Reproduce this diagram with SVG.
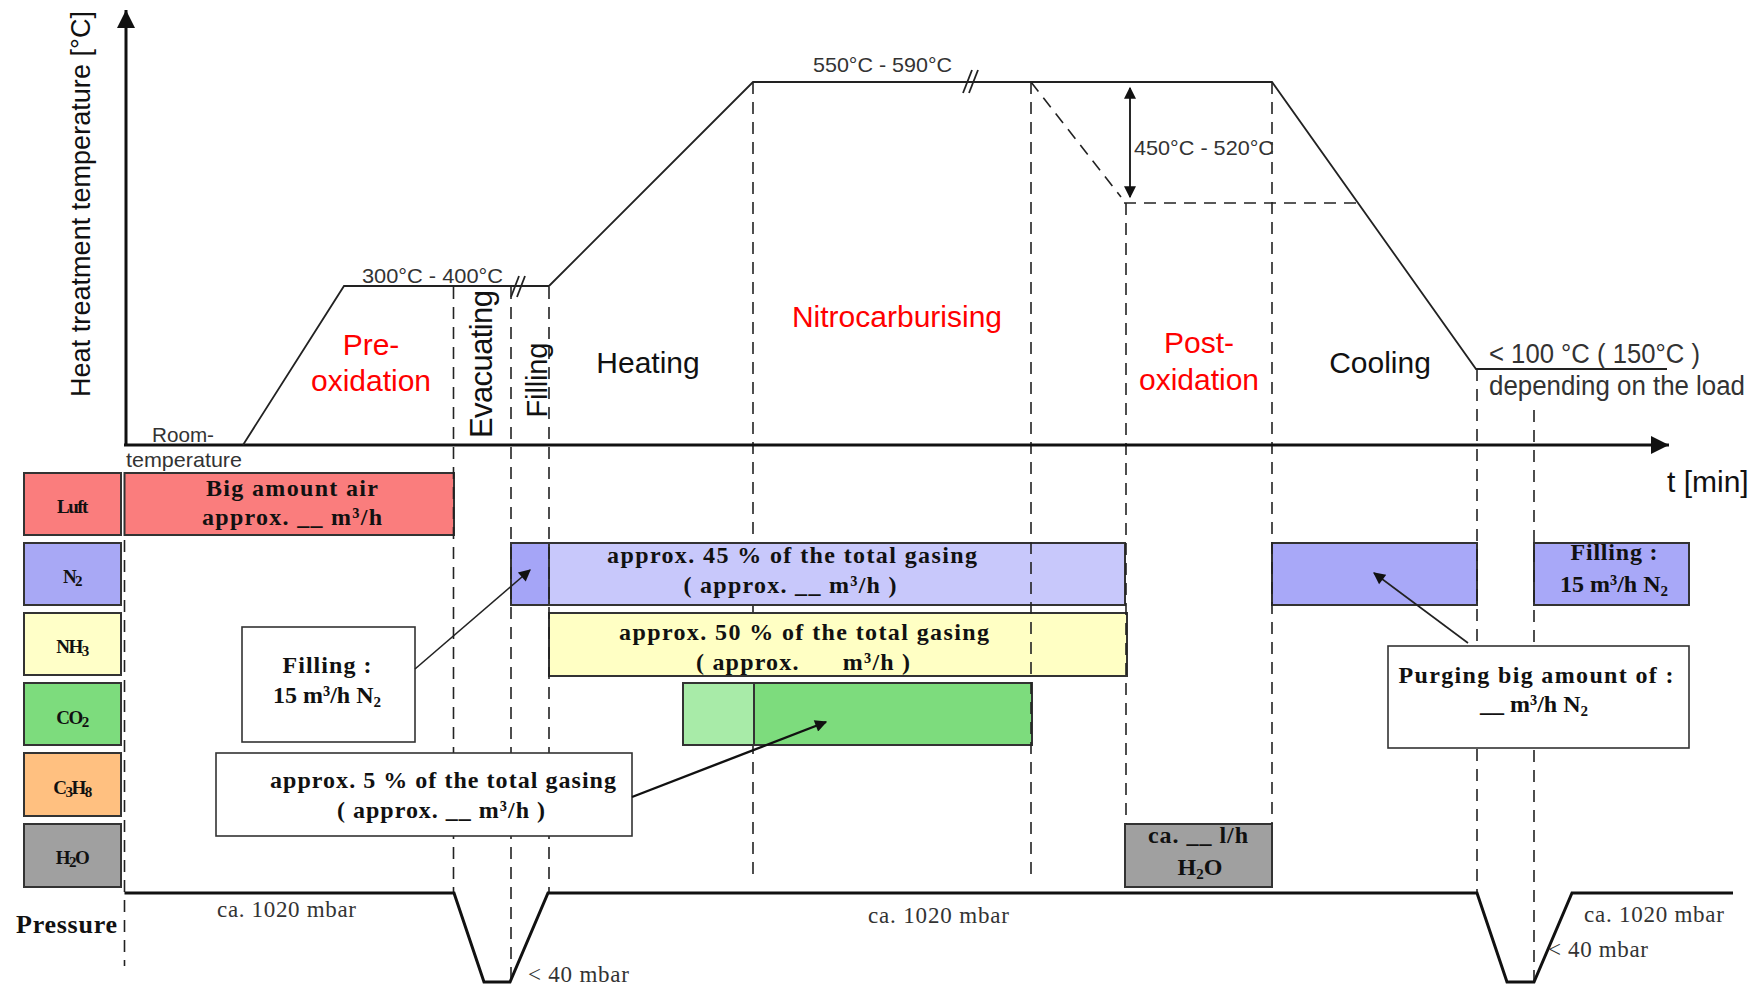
<svg xmlns="http://www.w3.org/2000/svg" width="1762" height="985" viewBox="0 0 1762 985">
<style>
.sans{font-family:"Liberation Sans",Arial,sans-serif}
.serif{font-family:"Liberation Serif","Times New Roman",serif}
.phase{font-family:"Liberation Sans",Arial,sans-serif;font-size:30px;text-anchor:middle;fill:#111}
.red{fill:#ff0000}
.tlab{font-family:"Liberation Sans",Arial,sans-serif;font-size:21px;fill:#333}
.bt{font-family:"Liberation Serif","Times New Roman",serif;font-size:24px;font-weight:bold;fill:#111;text-anchor:middle}
.pt{font-family:"Liberation Serif","Times New Roman",serif;font-size:23px;fill:#333}
.leg{font-family:"Liberation Serif","Times New Roman",serif;font-size:19px;font-weight:bold;fill:#111;text-anchor:middle;letter-spacing:-1.5px}
.dash{stroke:#222;stroke-width:1.6;stroke-dasharray:12 8;fill:none}
.curve{stroke:#222;stroke-width:1.8;fill:none}
.box{stroke:#333;stroke-width:2}
.call{fill:#fff;stroke:#333;stroke-width:1.6}
.axis{stroke:#111;stroke-width:3;fill:none}
.sub{font-size:15px}
</style>
<defs>
<marker id="ah" viewBox="0 0 10 10" refX="9" refY="5" markerWidth="14" markerHeight="12" markerUnits="userSpaceOnUse" orient="auto-start-reverse">
<path d="M0,0 L10,5 L0,10 z" fill="#111"/>
</marker>
<marker id="axh" viewBox="0 0 10 10" refX="10" refY="5" markerWidth="18" markerHeight="18" markerUnits="userSpaceOnUse" orient="auto">
<path d="M0,0 L10,5 L0,10 z" fill="#111"/>
</marker>
</defs>
<rect width="1762" height="985" fill="#fff"/>

<g id="guides-under">
<line class="dash" x1="753" y1="82" x2="753" y2="878"/>
</g>

<g id="gas-bars">
<rect class="box" x="124.5" y="473" width="329.5" height="62" fill="#fa7d7d"/>
<rect class="box" x="511" y="543" width="38" height="62" fill="#a5a5f7"/>
<rect class="box" x="549" y="543" width="576" height="62" fill="#c8c8fb"/>
<rect class="box" x="549" y="613" width="578" height="63" fill="#ffffc4"/>
<rect class="box" x="683" y="683" width="71" height="62" fill="#a8eba8"/>
<rect class="box" x="754" y="683" width="278" height="62" fill="#7ddc7d"/>
<rect class="box" x="1125" y="824" width="147" height="63" fill="#a0a0a0"/>
<rect class="box" x="1272" y="543" width="205" height="62" fill="#a8a8f8"/>
<rect class="box" x="1534" y="543" width="155" height="62" fill="#a8a8f8"/>
</g>

<g id="guides">
<line class="dash" x1="124.5" y1="540" x2="124.5" y2="966"/>
<line class="dash" x1="453.5" y1="287" x2="453.5" y2="893"/>
<line class="dash" x1="511" y1="287" x2="511" y2="978"/>
<line class="dash" x1="549" y1="287" x2="549" y2="893"/>
<line class="dash" x1="1031" y1="82" x2="1031" y2="878"/>
<line class="dash" x1="1126" y1="203" x2="1126" y2="824"/>
<line class="dash" x1="1272" y1="82" x2="1272" y2="824"/>
<line class="dash" x1="1477" y1="369" x2="1477" y2="893"/>
<line class="dash" x1="1534" y1="410" x2="1534" y2="982"/>
<line class="dash" x1="1031" y1="82" x2="1121" y2="197"/>
<line class="dash" x1="1124" y1="203" x2="1360" y2="203"/>
</g>

<g id="axes">
<line class="axis" x1="126" y1="445" x2="126" y2="10" marker-end="url(#axh)"/>
<line class="axis" x1="124" y1="445" x2="1669" y2="445" marker-end="url(#axh)"/>
<text class="sans" font-size="27" fill="#111" text-anchor="middle" transform="translate(90,204) rotate(-90)" textLength="386">Heat treatment temperature [°C]</text>
<text class="sans" font-size="30" fill="#111" x="1667" y="492">t [min]</text>
<text class="tlab" x="152" y="442" textLength="62" lengthAdjust="spacingAndGlyphs">Room-</text>
<text class="tlab" x="126" y="467" textLength="116" lengthAdjust="spacingAndGlyphs">temperature</text>
</g>

<g id="temperature-curve">
<polyline class="curve" points="243,445 344,286 549,286 753,82 1272,82 1476,369 1667,369"/>
<line class="curve" x1="511" y1="297" x2="519" y2="276"/>
<line class="curve" x1="517" y1="297" x2="525" y2="276"/>
<line class="curve" x1="963" y1="93" x2="972" y2="70"/>
<line class="curve" x1="969" y1="93" x2="978" y2="70"/>
<text class="tlab" x="362" y="283" textLength="141" lengthAdjust="spacingAndGlyphs">300°C - 400°C</text>
<text class="tlab" x="813" y="72" textLength="139" lengthAdjust="spacingAndGlyphs">550°C - 590°C</text>
<text class="tlab" x="1134" y="155" textLength="140" lengthAdjust="spacingAndGlyphs">450°C - 520°C</text>
<text class="sans" font-size="27" fill="#333" x="1489" y="363" textLength="211" lengthAdjust="spacingAndGlyphs">&lt; 100 °C ( 150°C )</text>
<text class="sans" font-size="27" fill="#333" x="1489" y="395" textLength="256" lengthAdjust="spacingAndGlyphs">depending on the load</text>
</g>

<g id="phase-labels">
<text class="phase red" x="371" y="355">Pre-</text>
<text class="phase red" x="371" y="391">oxidation</text>
<text class="sans" font-size="31" fill="#111" text-anchor="middle" transform="translate(492,364) rotate(-90)" textLength="148">Evacuating</text>
<text class="sans" font-size="29" fill="#111" text-anchor="middle" transform="translate(547,380) rotate(-90)" textLength="75">Filling</text>
<text class="phase" x="648" y="373">Heating</text>
<text class="phase red" x="897" y="327">Nitrocarburising</text>
<text class="phase red" x="1199" y="353">Post-</text>
<text class="phase red" x="1199" y="390">oxidation</text>
<text class="phase" x="1380" y="373">Cooling</text>
</g>

<g id="legend">
<rect class="box" x="24" y="473" width="97" height="62" fill="#fa7d7d"/>
<rect class="box" x="24" y="543" width="97" height="62" fill="#a8a8f5"/>
<rect class="box" x="24" y="613" width="97" height="62" fill="#ffffc8"/>
<rect class="box" x="24" y="683" width="97" height="62" fill="#7ddc7d"/>
<rect class="box" x="24" y="753" width="97" height="63" fill="#ffc080"/>
<rect class="box" x="24" y="824" width="97" height="63" fill="#a0a0a0"/>
<text class="leg" x="72" y="513">Luft</text>
<text class="leg" x="72" y="583">N<tspan class="sub" dy="3">2</tspan></text>
<text class="leg" x="72" y="653">NH<tspan class="sub" dy="3">3</tspan></text>
<text class="leg" x="72" y="724">CO<tspan class="sub" dy="3">2</tspan></text>
<text class="leg" x="72" y="794">C<tspan class="sub" dy="3">3</tspan><tspan dy="-3">H</tspan><tspan class="sub" dy="3">8</tspan></text>
<text class="leg" x="72" y="864">H<tspan class="sub" dy="3">2</tspan><tspan dy="-3">O</tspan></text>
</g>

<g id="bar-labels">
<text class="bt" x="292" y="496" textLength="172">Big amount air</text>
<text class="bt" x="292" y="525" textLength="180">approx. __ m³/h</text>
<text class="bt" x="792" y="563" textLength="370">approx. 45 % of the total gasing</text>
<text class="bt" x="790" y="593" textLength="213">( approx. __ m³/h )</text>
<text class="bt" x="804" y="640" textLength="370">approx. 50 % of the total gasing</text>
<text class="bt" x="803" y="670" textLength="214">( approx. &#160;&#160;&#160;&#160;&#160;m³/h )</text>
<text class="bt" x="1198" y="843" textLength="100">ca. __ l/h</text>
<text class="bt" x="1200" y="875">H<tspan class="sub" dy="4">2</tspan><tspan dy="-4">O</tspan></text>
<text class="bt" x="1614" y="560" textLength="87">Filling :</text>
<text class="bt" x="1614" y="592">15 m³/h N<tspan class="sub" dy="4">2</tspan></text>
</g>

<g id="callout-filling">
<rect class="call" x="242" y="627" width="173" height="115"/>
<text class="bt" x="327" y="673" textLength="89">Filling :</text>
<text class="bt" x="327" y="703">15 m³/h N<tspan class="sub" dy="4">2</tspan></text>
</g>

<g id="callout-propane">
<rect class="call" x="216" y="753" width="416" height="83"/>
<text class="bt" x="443" y="788" textLength="346">approx. 5 % of the total gasing</text>
<text class="bt" x="441" y="818" textLength="208">( approx. __ m³/h )</text>
</g>

<g id="callout-purging">
<rect class="call" x="1388" y="646" width="301" height="102"/>
<text class="bt" x="1536" y="683" textLength="275">Purging big amount of :</text>
<text class="bt" x="1534" y="712">__ m³/h N<tspan class="sub" dy="4">2</tspan></text>
</g>

<g id="pressure">
<polyline points="124.5,893 454,893 484,982 510,982 548,893 1477,893 1507,982 1534,982 1572,893 1733,893" fill="none" stroke="#111" stroke-width="3"/>
<text class="serif" font-size="26" font-weight="bold" fill="#111" x="16" y="933" textLength="101">Pressure</text>
<text class="pt" x="217" y="917" textLength="139">ca. 1020 mbar</text>
<text class="pt" x="868" y="923" textLength="141">ca. 1020 mbar</text>
<text class="pt" x="1584" y="922" textLength="140">ca. 1020 mbar</text>
<text class="pt" x="528" y="982" textLength="101">&lt; 40 mbar</text>
<text class="pt" x="1548" y="957" textLength="100">&lt; 40 mbar</text>
</g>

<g id="connectors">
<line x1="415" y1="669" x2="530" y2="570" stroke="#222" stroke-width="1.6" marker-end="url(#ah)"/>
<line x1="632" y1="797" x2="826" y2="722" stroke="#111" stroke-width="2.4" marker-end="url(#ah)"/>
<line x1="1468" y1="643" x2="1374" y2="573" stroke="#222" stroke-width="1.6" marker-end="url(#ah)"/>
<line x1="1130" y1="88" x2="1130" y2="197" stroke="#111" stroke-width="1.8" marker-start="url(#ah)" marker-end="url(#ah)"/>
</g>
</svg>
